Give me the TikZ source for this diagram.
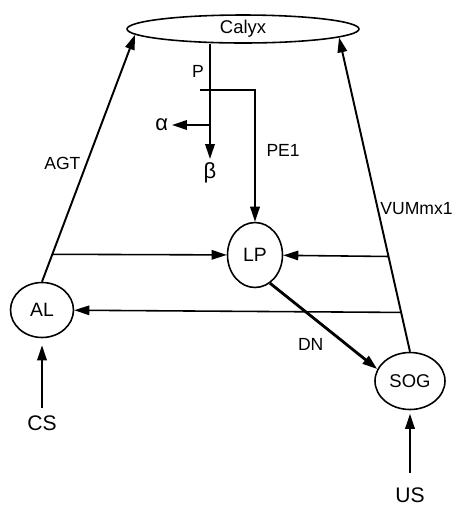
\documentclass[tikz,border=0pt]{standalone}
\usepackage{fontspec}
\setmainfont{Liberation Sans}
\usepackage{tikz}
\usetikzlibrary{arrows.meta,positioning,shapes.geometric}

\begin{document}
\begin{tikzpicture}[
    x=0.02cm, y=-0.02cm,
    blob/.style={ellipse, draw=black, line width=0.9pt, inner sep=0pt,
                 font=\fontsize{11}{13}\selectfont},
    lbl/.style={inner sep=3pt, font=\fontsize{10}{12}\selectfont},
    big/.style={inner sep=4pt, font=\fontsize{12}{14}\selectfont},
    greek/.style={inner sep=2pt, font=\fontsize{12.5}{14}\selectfont},
    arr/.style={-{Triangle[length=0.3cm,width=0.19cm]}, line width=1.1pt},
    harr/.style={arr, line width=0.9pt},
]
\useasboundingbox (0,0) rectangle (452,505);

\node[blob, minimum width=4.64cm, minimum height=0.56cm, font=\fontsize{10.5}{12}\selectfont] (calyx) at (243,29) {Calyx};
\node[blob, minimum width=1.1cm, minimum height=1.3cm] (lp) at (255,255) {LP};
\node[blob, minimum width=1.26cm, minimum height=1.1cm] (al) at (42,310) {AL};
\node[blob, minimum width=1.4cm, minimum height=1.14cm, font=\fontsize{10.5}{12}\selectfont] (sog) at (410,381) {SOG};
\node[big, anchor=north] (cs) at (42,408) {CS};
\node[big, anchor=north] (us) at (410,480) {US};
\node[greek, anchor=north] (beta) at (210,159) {β};
\node[greek, anchor=east] (alpha) at (172,125) {α};

\coordinate (pj) at (beta |- alpha);
\coordinate (pe) at (200,90);

% mushroom body pathways
\draw[arr] (calyx.south -| beta) -- node[lbl, pos=0.24, left] (plbl) {P} (beta);
\draw[arr] (pj) -- (alpha);
\draw[arr] (pe) -| node[lbl, pos=0.73, right=3pt] (pelbl) {PE1} (lp);

\draw[arr] (al.north) -- coordinate[pos=0.111] (agtj)
    node[lbl, pos=0.48, left] (agtlbl) {AGT} (calyx.183);
\draw[arr] (sog.north) -- coordinate[pos=0.125] (vumal) coordinate[pos=0.303] (vumlp)
    node[lbl, pos=0.455, right, inner sep=1pt] (vumlbl) {VUMmx1} (calyx.355);

\draw[harr] (agtj) -- (lp);
\draw[harr] (vumlp) -- (lp);
\draw[harr] (vumal) -- (al);
\draw[arr, line width=1.6pt] (lp.-62) -- node[lbl, pos=0.56, anchor=north east] (dnlbl) {DN} (sog.160);

\draw[arr, shorten >=4pt] (cs) -- (al);
\draw[arr, shorten <=4pt, shorten >=2pt] (us) -- (sog);
\end{tikzpicture}
\end{document}
